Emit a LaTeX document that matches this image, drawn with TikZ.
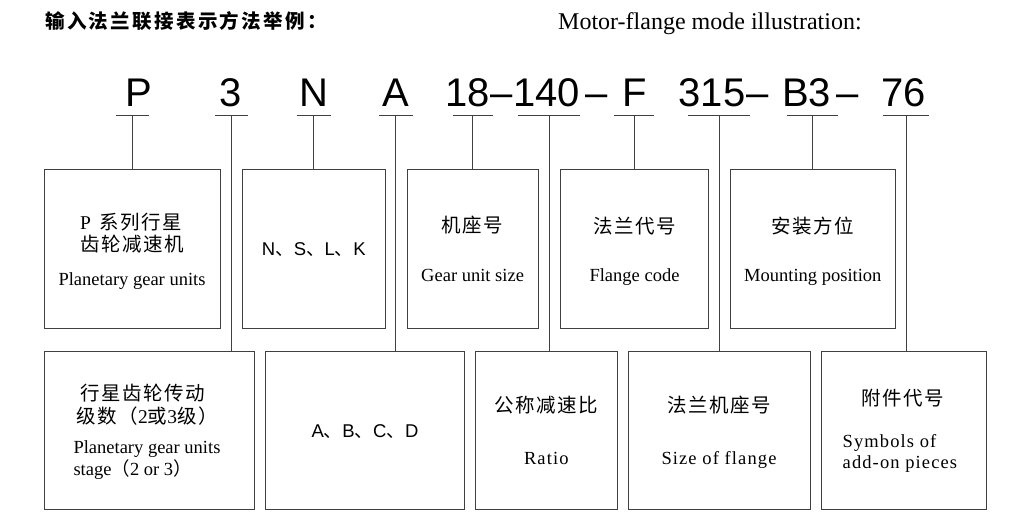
\documentclass[tikz,border=0pt]{standalone}
\usepackage{fontspec}
\setmainfont{Liberation Serif}
\newfontfamily\codefont{Liberation Sans}
\newfontfamily\serifwide[LetterSpace=6]{Liberation Serif}
\newfontfamily\cjk[LetterSpace=8]{Noto Sans CJK SC}
\newfontfamily\cjktitle[LetterSpace=12]{Noto Sans CJK SC}

\tikzset{
  unitbox/.style={draw=black!75, line width=1pt, inner sep=0pt},
  codetxt/.style={font=\codefont\fontsize{40}{40}\selectfont, inner sep=0pt, anchor=base},
  entxt/.style={font=\fontsize{18.5}{20}\selectfont, inner sep=0pt, anchor=base},
  widetxt/.style={font=\serifwide\fontsize{18.5}{20}\selectfont, inner sep=0pt, anchor=base},
  sanstxt/.style={font=\codefont\fontsize{18.5}{20}\selectfont, inner sep=0pt, anchor=base},
  zhtxt/.style={font=\cjk\fontsize{19.5}{21}\selectfont, inner sep=0pt},
  link/.style={black!75, line width=1pt},
}

\begin{document}
\begin{tikzpicture}[x=1pt,y=-1pt]
    \useasboundingbox (0,0) rectangle (1022,521);
    % titles
    \node[font=\cjktitle\bfseries\fontsize{19.5}{21}\selectfont, anchor=west, inner sep=0pt] (titlezh) at (45,21.3) {输入法兰联接表示方法举例：};
    \node[font=\fontsize{24}{26}\selectfont, anchor=base west, inner sep=0pt] (titleen) at (558,29.2) {Motor-flange mode illustration:};
    % type code
    \node[codetxt] (cP) at (139.2,107) {P};
    \node[codetxt] (c3) at (230.5,107) {3};
    \node[codetxt] (cN) at (314,107) {N};
    \node[codetxt] (cA) at (396,107) {A};
    \node[codetxt] (c18) at (467.5,107) {18};
    \node[codetxt] (dash1) at (501.5,107) {\textendash};
    \node[codetxt] (c140) at (546.5,107) {140};
    \node[codetxt] (dash2) at (597,107) {\textendash};
    \node[codetxt] (cF) at (634.5,107) {F};
    \node[codetxt] (c315) at (712,107) {315};
    \node[codetxt] (dash3) at (758,107) {\textendash};
    \node[codetxt] (cB3) at (806.5,107) {B3};
    \node[codetxt] (dash4) at (847.5,107) {\textendash};
    \node[codetxt] (c76) at (903.5,107) {76};
    % upper boxes
    \node[unitbox, minimum width=176.4pt, minimum height=158.7pt] (bSeries) at (132.5,249.35) {};
    \node[unitbox, minimum width=142.3pt, minimum height=158.7pt] (bType) at (313.85,249.35) {};
    \node[unitbox, minimum width=131.3pt, minimum height=158.7pt] (bSize) at (472.65,249.35) {};
    \node[unitbox, minimum width=147.6pt, minimum height=158.7pt] (bFlange) at (634.5,249.35) {};
    \node[unitbox, minimum width=165pt, minimum height=158.7pt] (bMount) at (812.8,249.35) {};
    % lower boxes
    \node[unitbox, minimum width=210pt, minimum height=158pt] (bStage) at (149.5,430.5) {};
    \node[unitbox, minimum width=198.6pt, minimum height=158pt] (bShaft) at (365,430.5) {};
    \node[unitbox, minimum width=142pt, minimum height=158pt] (bRatio) at (546.3,430.5) {};
    \node[unitbox, minimum width=181.5pt, minimum height=158pt] (bFlSize) at (719.25,430.5) {};
    \node[unitbox, minimum width=164.8pt, minimum height=158pt] (bAddon) at (903.6,430.5) {};
    % underlines and leaders
    \foreach \n/\x/\w/\b in {P/132.4/33/bSeries, 3/231.5/33/bStage, N/313.7/34/bType, A/395.9/34/bShaft,
                             18/472.9/40/bSize, 140/549/62/bRatio, F/634/40/bFlange, 315/719/62/bFlSize,
                             B3/812.5/51/bMount, 76/906/46/bAddon} {
        \coordinate (u\n) at (\x,116);
        \draw[link] (u\n) ++(-\w/2,0) -- ++(\w,0);
        \draw[link] (u\n) -- (u\n |- \b.north);
    }
    % texts, upper row
    \node[zhtxt] (tSeries1) at (131,222) {{\rmfamily P}\hspace{8pt}系列行星};
    \node[zhtxt] (tSeries2) at (132,244) {齿轮减速机};
    \node[entxt] (tSeries3) at (132,285) {Planetary gear units};
    \node[sanstxt] (tType) at (313.85,255) {N{\cjk 、}S{\cjk 、}L{\cjk 、}K};
    \node[zhtxt] (tSize1) at (472.6,225) {机座号};
    \node[entxt] (tSize2) at (472.6,281) {Gear unit size};
    \node[zhtxt] (tFlange1) at (634.5,226) {法兰代号};
    \node[entxt] (tFlange2) at (634.5,281) {Flange code};
    \node[zhtxt] (tMount1) at (812.8,226) {安装方位};
    \node[entxt] (tMount2) at (812.8,281) {Mounting position};
    % texts, lower row
    \node[zhtxt] (tStage1) at (143,393) {行星齿轮传动};
    \node[zhtxt] (tStage2) at (147,416) {级数（{\rmfamily 2}或{\rmfamily 3}级）};
    \node[entxt, anchor=base west] (tStage3) at (73.3,453.3) {Planetary gear units};
    \node[entxt, anchor=base west] (tStage4) at (73.3,475) {stage{\cjk （}2 or 3{\cjk ）}};
    \node[sanstxt] (tShaft) at (365,437) {A{\cjk 、}B{\cjk 、}C{\cjk 、}D};
    \node[zhtxt] (tRatio1) at (546.3,405) {公称减速比};
    \node[widetxt] (tRatio2) at (546.3,464) {Ratio};
    \node[zhtxt] (tFlSize1) at (719,405) {法兰机座号};
    \node[widetxt] (tFlSize2) at (719,464) {Size of flange};
    \node[zhtxt] (tAddon1) at (903,398) {附件代号};
    \node[widetxt, anchor=base west] (tAddon2) at (842.5,447.3) {Symbols of};
    \node[widetxt, anchor=base west] (tAddon3) at (842.5,468.3) {add-on pieces};
\end{tikzpicture}
\end{document}
